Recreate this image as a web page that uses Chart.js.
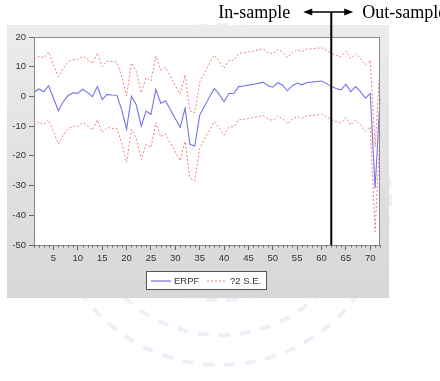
<!DOCTYPE html>
<html>
<head>
<meta charset="utf-8">
<script src="https://cdn.jsdelivr.net/npm/chart.js@4.4.0/dist/chart.umd.min.js"></script>
<style>
  html, body { margin: 0; padding: 0; background: #fff; }
  #wrap { width: 440px; height: 381px; }
</style>
</head>
<body>
<div id="wrap"><canvas id="chart" width="440" height="381"></canvas></div>
<script>
// observation number 1..72
const periods = [
  1, 2, 3, 4, 5, 6, 7, 8, 9, 10, 11, 12, 13, 14, 15, 16, 17, 18,
  19, 20, 21, 22, 23, 24, 25, 26, 27, 28, 29, 30, 31, 32, 33, 34, 35, 36,
  37, 38, 39, 40, 41, 42, 43, 44, 45, 46, 47, 48, 49, 50, 51, 52, 53, 54,
  55, 56, 57, 58, 59, 60, 61, 62, 63, 64, 65, 66, 67, 68, 69, 70, 71, 72
];

const erpf = [
  1.4, 2.5, 1.6, 3.6, -0.6, -4.8, -1.8, 0.3, 1.2, 1.1, 2.4, 1.3, -0.1, 3.3, -1.0, 0.7, 0.5, 0.4,
  -4.5, -11.0, 0.1, -2.9, -10.0, -4.9, -6.0, 2.4, -2.3, -1.5, -4.5, -7.5, -10.4, -4.0, -16.1, -16.7, -6.3, -3.2,
  -0.2, 2.7, 0.7, -1.8, 1.0, 1.0, 3.3, 3.5, 3.8, 4.1, 4.4, 4.8, 3.6, 3.1, 4.6, 3.8, 1.9, 3.6,
  4.5, 3.9, 4.7, 4.8, 5.0, 5.2, 4.4, 3.3, 2.7, 2.2, 4.1, 1.6, 3.3, 1.6, -0.6, 1.0, -31.0, -0.5
];

const upperBand = [
  12.6, 13.5, 13.0, 15.0, 10.5, 6.6, 9.5, 11.5, 12.4, 12.5, 13.5, 12.5, 11.1, 14.6, 10.0, 11.9, 11.7, 11.6,
  6.7, 0.2, 11.3, 8.3, 1.2, 6.3, 5.2, 13.6, 8.9, 9.7, 6.7, 3.7, 0.8, 7.2, -4.9, -5.5, 4.9, 8.0,
  11.0, 13.9, 11.9, 9.4, 12.2, 12.2, 14.5, 14.7, 15.0, 15.3, 15.6, 16.0, 14.8, 14.3, 15.8, 15.0, 13.1, 14.8,
  15.7, 15.1, 15.9, 16.0, 16.2, 16.4, 15.6, 14.5, 13.9, 13.4, 15.3, 12.8, 14.5, 12.8, 10.6, 12.2, -17.0, 10.5
];

const lowerBand = [
  -9.7, -8.6, -9.5, -7.9, -11.8, -16.0, -13.0, -10.9, -10.0, -10.1, -8.8, -9.9, -11.3, -7.9, -12.2, -10.5, -10.7, -10.8,
  -15.7, -22.2, -11.1, -14.1, -21.2, -16.1, -17.2, -8.8, -13.5, -12.7, -15.7, -18.7, -21.6, -15.2, -27.5, -28.3, -17.5, -14.4,
  -11.4, -8.5, -10.5, -13.0, -10.2, -10.2, -7.9, -7.7, -7.4, -7.1, -6.8, -6.4, -7.6, -8.1, -6.6, -7.4, -9.3, -7.6,
  -6.7, -7.3, -6.5, -6.4, -6.2, -6.0, -6.8, -7.9, -8.5, -9.0, -7.1, -9.6, -7.9, -9.6, -11.8, -10.2, -45.5, -11.7
];

const yTicks = [20, 10, 0, -10, -20, -30, -40, -50];
const splitAt = 62;
const seriesNames = ['ERPF', '?2 S.E.'];

const blue = '#7474e8';
const red = '#ef7f7f';

// background panel, watermark, plot frame
const backdrop = {
  id: 'backdrop',
  beforeDraw(chart) {
    const ctx = chart.ctx;
    const a = chart.chartArea;
    ctx.save();
    // faint watermark rings
    ctx.strokeStyle = 'rgba(170,180,225,0.22)';
    ctx.setLineDash([11, 10]);
    [[105, 4], [140, 4], [170, 4]].forEach(([r, w]) => {
      ctx.lineWidth = w;
      ctx.beginPath();
      ctx.arc(220, 195, r, 0, Math.PI * 2);
      ctx.stroke();
    });
    ctx.setLineDash([]);
    // grey panel
    const g = ctx.createLinearGradient(0, 25, 0, 298);
    g.addColorStop(0, '#ececec');
    g.addColorStop(1, '#d7d7d7');
    ctx.fillStyle = g;
    ctx.fillRect(7, 25, 382, 273);
    // plot area
    ctx.fillStyle = '#ffffff';
    ctx.fillRect(a.left, a.top, a.right - a.left, a.bottom - a.top);
    ctx.restore();
  },
  afterDraw(chart) {
    const ctx = chart.ctx;
    const a = chart.chartArea;
    const xs = chart.scales.x;
    ctx.save();
    // frame
    ctx.strokeStyle = '#8a8a8a';
    ctx.lineWidth = 1;
    ctx.strokeRect(a.left + 0.5, a.top + 0.5, a.right - a.left - 1, a.bottom - a.top);
    // minor x ticks
    ctx.strokeStyle = '#666';
    periods.forEach((p, i) => {
      if (p % 5 === 0) return;
      const px = Math.round(xs.getPixelForValue(i)) + 0.5;
      ctx.beginPath();
      ctx.moveTo(px, a.bottom);
      ctx.lineTo(px, a.bottom + 2.5);
      ctx.stroke();
    });

    // in-sample / out-sample marker
    const lx = xs.getPixelForValue(periods.indexOf(splitAt));
    const ay = 12;
    ctx.strokeStyle = '#000';
    ctx.fillStyle = '#000';
    ctx.lineWidth = 2;
    ctx.beginPath();
    ctx.moveTo(lx, ay);
    ctx.lineTo(lx, a.bottom);
    ctx.stroke();
    ctx.lineWidth = 1.3;
    ctx.beginPath();
    ctx.moveTo(lx - 20, ay);
    ctx.lineTo(lx + 15, ay);
    ctx.stroke();
    ctx.beginPath();
    ctx.moveTo(lx - 28, ay);
    ctx.lineTo(lx - 19, ay - 3.5);
    ctx.lineTo(lx - 19, ay + 3.5);
    ctx.closePath();
    ctx.fill();
    ctx.beginPath();
    ctx.moveTo(lx + 22, ay);
    ctx.lineTo(lx + 13, ay - 3.5);
    ctx.lineTo(lx + 13, ay + 3.5);
    ctx.closePath();
    ctx.fill();
    ctx.font = '18px "Liberation Serif", "Times New Roman", serif';
    ctx.textBaseline = 'alphabetic';
    ctx.textAlign = 'right';
    ctx.fillText('In-sample', lx - 41, 18);
    ctx.textAlign = 'left';
    ctx.fillText('Out-sample', lx + 31, 18);

    // legend box
    ctx.fillStyle = '#ffffff';
    ctx.fillRect(146, 271, 120, 18);
    ctx.strokeStyle = '#555';
    ctx.lineWidth = 1;
    ctx.strokeRect(146.5, 271.5, 120, 18);
    ctx.strokeStyle = blue;
    ctx.lineWidth = 1.2;
    ctx.beginPath();
    ctx.moveTo(151, 281);
    ctx.lineTo(171, 281);
    ctx.stroke();
    ctx.strokeStyle = red;
    ctx.lineWidth = 1;
    ctx.setLineDash([2, 2]);
    ctx.beginPath();
    ctx.moveTo(207, 281);
    ctx.lineTo(227, 281);
    ctx.stroke();
    ctx.setLineDash([]);
    ctx.fillStyle = '#333';
    ctx.font = '9.5px "Liberation Sans", Arial, sans-serif';
    ctx.textBaseline = 'middle';
    ctx.fillText(seriesNames[0], 174, 281);
    ctx.fillText(seriesNames[1], 230, 281);
    ctx.restore();
  }
};

new Chart(document.getElementById('chart'), {
  type: 'line',
  data: {
    labels: periods,
    datasets: [
      { label: seriesNames[1], data: upperBand, borderColor: red, borderWidth: 1, borderDash: [2, 2], pointRadius: 0, tension: 0 },
      { label: seriesNames[1], data: lowerBand, borderColor: red, borderWidth: 1, borderDash: [2, 2], pointRadius: 0, tension: 0 },
      { label: seriesNames[0], data: erpf, borderColor: blue, borderWidth: 1.1, pointRadius: 0, tension: 0 }
    ]
  },
  options: {
    responsive: false,
    animation: false,
    layout: { padding: { left: 7, top: 37, right: 60, bottom: 116 } },
    plugins: { legend: { display: false }, tooltip: { enabled: false } },
    scales: {
      x: {
        type: 'category',
        offset: false,
        afterFit: (s) => { s.height = 20; },
        border: { display: false },
        grid: {
          drawOnChartArea: false,
          tickLength: 5,
          tickColor: (c) => (periods[c.index] % 5 === 0 ? '#666' : 'rgba(0,0,0,0)')
        },
        ticks: {
          autoSkip: false,
          maxRotation: 0,
          padding: 3,
          color: '#333',
          font: { family: '"Liberation Sans", Arial, sans-serif', size: 9.5 },
          callback: function (v) {
            const p = this.getLabelForValue(v);
            return p % 5 === 0 ? String(p) : '';
          }
        }
      },
      y: {
        min: yTicks[yTicks.length - 1],
        max: yTicks[0],
        afterFit: (s) => { s.width = 27; },
        afterBuildTicks: (s) => { s.ticks = yTicks.map(v => ({ value: v })); },
        border: { display: false },
        grid: { drawOnChartArea: false, tickLength: 5, tickColor: '#666' },
        ticks: {
          padding: 3,
          color: '#333',
          font: { family: '"Liberation Sans", Arial, sans-serif', size: 9.5 }
        }
      }
    }
  },
  plugins: [backdrop]
});
</script>
</body>
</html>
